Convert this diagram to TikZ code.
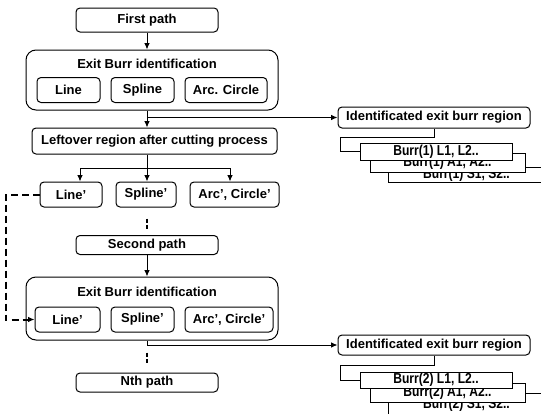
\documentclass[tikz,border=0pt]{standalone}
\usepackage{fontspec}
\setmainfont{Liberation Sans}
\usepackage{tikz}
\usetikzlibrary{arrows.meta,positioning,calc}
\tikzset{%
  pathbox/.style={draw,rounded corners=2pt,align=center,minimum width=71pt,minimum height=9.5pt,inner sep=1.5pt},
  itembox/.style={draw,rounded corners=2pt,align=center,minimum height=12.5pt,inner sep=1.5pt},
  grpbox/.style={draw,rounded corners=5pt,minimum width=126pt,inner sep=0pt},
  arrow/.style={-{Latex[length=3.2pt,width=2.8pt]}}%
}

\begin{document}
\begin{tikzpicture}[
    x=0.5pt, y=-0.5pt,
    line width=0.5pt,
    font=\bfseries\fontsize{6.5}{7}\selectfont,
    burrbox/.style={
        draw,
        fill=white,
        inner sep=0pt,
        font=\bfseries\fontsize{7.2}{7.2}\selectfont\addfontfeature{FakeStretch=0.84}
    },
    identbox/.style={
        draw,
        rounded corners=2pt,
        minimum width=96pt,
        minimum height=10.5pt,
        inner sep=1.5pt
    },
    dots/.style={line width=1.3pt, dash pattern=on 2pt off 1.2pt},
    looparrow/.style={-{Latex[length=3.2pt,width=2.8pt]}, line width=1pt, dash pattern=on 3.5pt off 2pt}
]
\useasboundingbox (0,0) rectangle (541,413);
\clip (0,0) rectangle (541,413);

% Left column: paths and burr identification
\node[pathbox, minimum height=12pt] (first) at (147,20) {First path};

\node[grpbox, minimum height=30pt] (grp1) at (152,80) {};
\node (title1) at (147,64) {Exit Burr identification};
\node[itembox, minimum width=31.5pt] (line1) at (68.5,90) {Line};
\node[itembox, minimum width=31.5pt, right=5pt of line1] (spline1) {Spline};
\node[itembox, minimum width=41pt, right=5pt of spline1] (arc1) {Arc. Circle};

\node[pathbox, minimum width=122.5pt, minimum height=13pt] (leftover) at (154.5,141)
{Leftover region after cutting process};

\node[itembox, minimum width=31pt] (line1p) at (71,194.5) {Line'};
\node[itembox, minimum width=30pt, right=6.5pt of line1p] (spline1p) {Spline'};
\node[itembox, minimum width=44.5pt, right=6.5pt of spline1p] (arc1p) {Arc', Circle'};

\node[pathbox] (second) at (147,245) {Second path};

\node[grpbox, minimum height=31.5pt] (grp2) at (152,308.5) {};
\node (title2) at (147,292) {Exit Burr identification};
\node[itembox, minimum width=32.5pt] (line2) at (67.5,319.5) {Line'};
\node[itembox, minimum width=31.5pt, right=5pt of line2] (spline2) {Spline'};
\node[itembox, minimum width=44pt, right=5pt of spline2] (arc2) {Arc', Circle'};

\node[pathbox] (nth) at (147,382.5) {Nth path};

% Right column: identified regions, stacked burr lists
\node[identbox] (ident1) at (434,117.5) {Identificated exit burr region};
\node[burrbox, minimum width=78.5pt, minimum height=7.5pt] (s1) at (466.5,175) {Burr(1) S1, S2..};
\node[burrbox, minimum width=77.5pt, minimum height=9.5pt] (a1) at (447.5,162.5) {Burr(1) A1, A2..};
\node[burrbox, minimum width=76pt, minimum height=8.5pt] (l1) at (436,151.5) {Burr(1) L1, L2..};

\node[identbox, minimum height=10pt] (ident2) at (434,345) {Identificated exit burr region};
\node[burrbox, minimum width=78.5pt, minimum height=11.5pt] (s2) at (466.5,404.5) {Burr(2) S1, S2..};
\node[burrbox, minimum width=77.5pt, minimum height=9.5pt] (a2) at (447.5,392.5) {Burr(2) A1, A2..};
\node[burrbox, minimum width=76pt, minimum height=8pt] (l2) at (436,380) {Burr(2) L1, L2..};

\coordinate (split) at (147,168);
\coordinate (b1) at (340,137);
\coordinate (b2) at (340,365);

\draw[arrow] (first) -- (first |- grp1.north);
\draw[arrow] (first |- grp1.south) -- (first |- leftover.north);
\draw[arrow] (first |- ident1.west) -- (ident1.west);
\draw (first |- leftover.south) -- (split);
\draw[arrow] (split) -| ([xshift=4.5pt]line1p.north);
\draw[arrow] (split) -- (first |- spline1p.north);
\draw[arrow] (split) -| ([xshift=-2.25pt]arc1p.north);
\draw[dots, shorten <=5.5pt, shorten >=3pt] (first |- spline1p.south) -- (second.north);
\draw[arrow] (second) -- (second |- grp2.north);
\draw[arrow] (first |- grp2.south) |- (ident2.west);
\draw[dots, shorten <=6pt, shorten >=4pt] (first |- grp2.south) -- (nth.north);
\draw[looparrow] (line1p.west) -- ++(-34,0) |- (line2.west);

\draw (ident1.south) |- (b1) |- (l1.west);
\draw (ident2.south) |- (b2) |- (l2.west);

\end{tikzpicture}
\end{document}
